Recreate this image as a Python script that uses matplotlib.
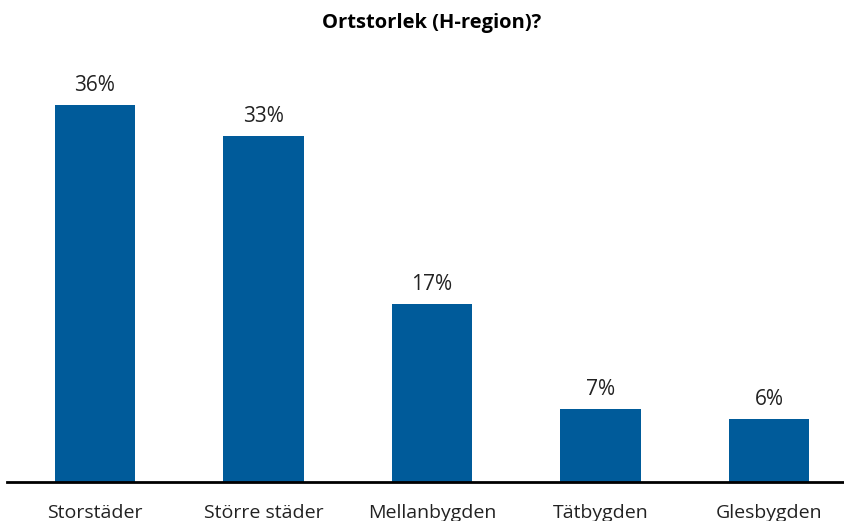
import matplotlib.pyplot as plt
import numpy as np

plt.rcParams['font.family'] = ['Open Sans', 'DejaVu Sans']

categories = ['Storstäder', 'Större städer', 'Mellanbygden', 'Tätbygden', 'Glesbygden']
values = [36, 33, 17, 7, 6]
value_labels = ['36%', '33%', '17%', '7%', '6%']

fig = plt.figure(figsize=(8.44, 5.21), dpi=100)
ax = fig.add_axes([7 / 844, 1 - 482 / 521, 837 / 844, (482 - 63) / 521])

x = np.arange(len(categories))
bars = ax.bar(x, values, width=0.48, color='#005B9A')

for rect, lab in zip(bars, value_labels):
    ax.text(rect.get_x() + rect.get_width() / 2, rect.get_height() + 0.85, lab,
            ha='center', va='bottom', fontsize=15, color='#222222')

ax.set_xlim(-0.522, 4.445)
ax.set_ylim(0, 40)
ax.set_yticks([])
ax.set_xticks(x, categories, fontsize=14, color='#222222')
ax.tick_params(axis='x', length=0, pad=16)
for side in ['top', 'right', 'left']:
    ax.spines[side].set_visible(False)
ax.spines['bottom'].set_linewidth(2)
ax.spines['bottom'].set_color('black')

fig.text(432 / 844, 1 - 23 / 521, 'Ortstorlek (H-region)?', ha='center', va='center',
         fontsize=14.5, fontweight='bold')

plt.savefig('out.png', dpi=100)
